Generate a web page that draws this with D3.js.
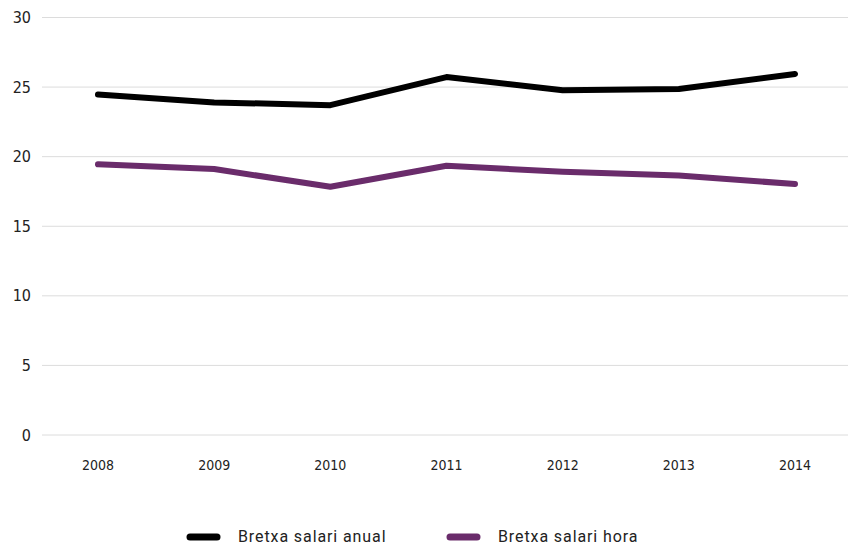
<!DOCTYPE html>
<html><head><meta charset="utf-8">
<script src="https://cdn.jsdelivr.net/npm/d3@7"></script>
<style>body{margin:0;background:#fff}svg{display:block}</style>
</head><body><svg id="c" width="848" height="546"></svg>
<script>
const years = ["2008","2009","2010","2011","2012","2013","2014"];
const anual = [24.47, 23.9, 23.7, 25.72, 24.78, 24.86, 25.94];
const hora = [19.45, 19.11, 17.84, 19.35, 18.92, 18.65, 18.03];
const yTicks = [0,5,10,15,20,25,30];
const seriesNames = ["Bretxa salari anual","Bretxa salari hora"];
const colors = ["#000000","#6a2c6b"];

const svg = d3.select("#c");
const font = "'DejaVu Sans Condensed', 'Roboto', sans-serif";
const x = d3.scalePoint().domain(years).range([98, 795]);
const y = d3.scaleLinear().domain([0,30]).range([435, 17.5]);

svg.append("g").selectAll("line").data(yTicks).join("line")
  .attr("x1", 42).attr("x2", 848)
  .attr("y1", d=>y(d)).attr("y2", d=>y(d))
  .attr("stroke", "#dcdcdc").attr("stroke-width", 1);

svg.append("g").selectAll("text").data(yTicks).join("text")
  .attr("x", 31).attr("y", d=>y(d)).attr("dy","0.35em")
  .attr("text-anchor","end").attr("font-family", font).attr("font-size", 16)
  .attr("fill","#222").text(d=>d);

svg.append("g").selectAll("text").data(years).join("text")
  .attr("x", d=>x(d)).attr("y", 465).attr("dy","0.35em")
  .attr("text-anchor","middle").attr("font-family", font).attr("font-size", 14)
  .attr("fill","#222").text(d=>d);

const line = d3.line().x((d,i)=>x(years[i])).y(d=>y(d));
[anual, hora].forEach((s,i)=>{
  svg.append("path").datum(s).attr("d", line)
    .attr("fill","none").attr("stroke", colors[i]).attr("stroke-width", 6)
    .attr("stroke-linecap","round").attr("stroke-linejoin","round");
});

const legX = [190, 450];
seriesNames.forEach((n,i)=>{
  const g = svg.append("g").attr("transform", `translate(${legX[i]},537)`);
  g.append("line").attr("x1",0).attr("x2",27).attr("y1",0).attr("y2",0)
    .attr("stroke", colors[i]).attr("stroke-width",7).attr("stroke-linecap","round");
  g.append("text").attr("x",48).attr("y",0).attr("dy","0.33em")
    .attr("font-family", "Roboto, sans-serif").attr("font-size",16)
    .attr("letter-spacing", "0.9px").attr("fill","#222").text(n);
});
</script></body></html>
